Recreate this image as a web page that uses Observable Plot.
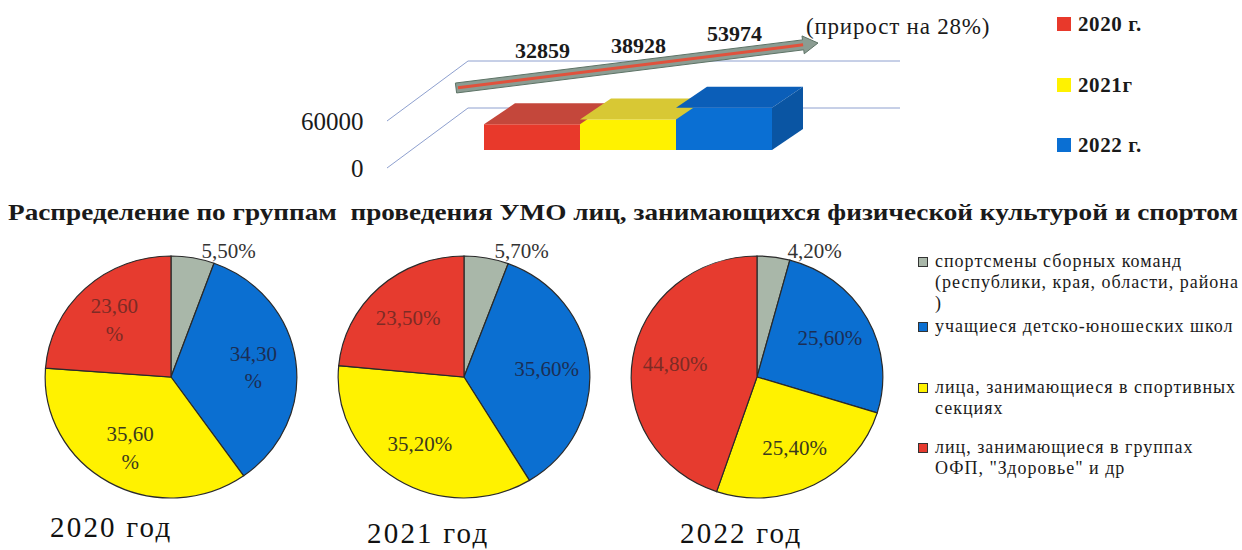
<!DOCTYPE html>
<html><head><meta charset="utf-8">
<script src="https://cdn.jsdelivr.net/npm/d3@7"></script>
<script src="https://cdn.jsdelivr.net/npm/@observablehq/plot@0.6"></script>
<style>
body{margin:0;background:#fff;}
#page{position:relative;width:1242px;height:550px;overflow:hidden;font-family:"Liberation Serif",serif;color:#1a1a1a;}
#page > *{position:absolute;}
.sq{position:absolute;box-sizing:border-box;}
</style></head><body><div id="page"></div>
<script>
// ---- data ----
const years = ["2020", "2021", "2022"];
const totals = [32859, 38928, 53974];
const barLegendLabels = ["2020 г.", "2021г", "2022 г."];
const axisTicks = [0, 60000];
const growthNote = "(прирост на 28%)";
const pieTitle = "Распределение по группам  проведения УМО лиц, занимающихся физической культурой и спортом";
const groups = [
  "спортсмены сборных команд (республики, края, области, района )",
  "учащиеся детско-юношеских школ",
  "лица, занимающиеся в спортивных секциях",
  "лиц, занимающиеся в группах ОФП, \"Здоровье\" и др"
];
const share2020 = [5.5, 34.3, 35.6, 23.6];
const share2021 = [5.7, 35.6, 35.2, 23.5];
const share2022 = [4.2, 25.6, 25.4, 44.8];
const yearLabels = ["2020 год", "2021 год", "2022 год"];

// ---- styles ----
const frontColors = ["#e8392b", "#fff200", "#0a6fd3"];
const topColors = ["#c4473b", "#d8c834", "#0b5eb8"];
const sideColor = "#0a55a3";
const pieColors = ["#a9b7a9", "#0b6fd1", "#fff200", "#e63b2f"];
const pieText = ["#333333", "#1b2e55", "#3b3a1e", "#7d2b25"];
const shares = [share2020, share2021, share2022];
const fmt = v => d3.format(".2f")(v).replace(".", ",") + "%";

const page = document.getElementById("page");

// ---- top 3D bar chart ----
const barRows = years.map((year, i) => ({year, value: totals[i]}));

function walls(index, scales) {
  const g = d3.create("svg:g").attr("fill", "none").attr("stroke", "#8ea0cf").attr("stroke-width", 1);
  const x0 = scales.x(years[0]);
  const x1 = scales.x(years[years.length - 1]) + scales.x.bandwidth();
  for (const v of axisTicks) {
    const y = scales.y(v);
    g.append("path").attr("d", `M${x0 - 97},${y + 18}L${x0 - 16},${y - 42}L${x1 + 128},${y - 42}`);
  }
  return g.node();
}

function arrow(index, scales) {
  const g = d3.create("svg:g");
  const bw = scales.x.bandwidth();
  const ytop = scales.y(axisTicks[1]);
  const xs = scales.x(years[0]) - 28, ys = ytop - 15;
  const xe = scales.x(years[years.length - 1]) + bw + 46, ye = ytop - 60;
  const L = Math.hypot(xe - xs, ye - ys);
  const ux = (xe - xs) / L, uy = (ye - ys) / L, nx = -uy, ny = ux;
  const hl = 15, sw = 5, hw = 9;
  const bx = xe - ux * hl, by = ye - uy * hl;
  const pts = [
    [xs + nx * sw, ys + ny * sw], [bx + nx * sw, by + ny * sw], [bx + nx * hw, by + ny * hw],
    [xe, ye], [bx - nx * hw, by - ny * hw], [bx - nx * sw, by - ny * sw], [xs - nx * sw, ys - ny * sw]
  ];
  g.append("path").attr("d", "M" + pts.map(p => p.join(",")).join("L") + "Z")
    .attr("fill", "#8b9c92").attr("stroke", "#5d7366").attr("stroke-width", 1);
  g.append("line").attr("x1", xs + ux * 2).attr("y1", ys + uy * 2).attr("x2", bx).attr("y2", by)
    .attr("stroke", "#e0523d").attr("stroke-width", 3);
  return g.node();
}

function tops(index, scales) {
  const g = d3.create("svg:g");
  const bw = scales.x.bandwidth();
  const dx = 31, dy = -21;
  barRows.forEach((d, i) => {
    const x0 = scales.x(d.year), x1 = x0 + bw, yb = scales.y(0), yt = scales.y(d.value);
    g.append("path").attr("d", `M${x0},${yt}L${x0 + dx},${yt + dy}L${x1 + dx},${yt + dy}L${x1},${yt}Z`)
      .attr("fill", topColors[i]);
    if (i === barRows.length - 1) {
      g.append("path").attr("d", `M${x1},${yt}L${x1 + dx},${yt + dy}L${x1 + dx},${yb + dy}L${x1},${yb}Z`)
        .attr("fill", sideColor);
    }
  });
  return g.node();
}

const topPlot = Plot.plot({
  width: 1242, height: 190,
  marginLeft: 370, marginTop: 0, marginBottom: 0, marginRight: 0,
  style: {fontFamily: "'Liberation Serif', serif", fontSize: "24px", color: "#1a1a1a", background: "transparent", overflow: "visible"},
  x: {type: "band", domain: years, range: [483, 772], padding: 0, axis: null},
  y: {domain: [0, 60000], range: [150, 103], axis: null},
  color: {domain: years, range: frontColors},
  marks: [
    walls,
    Plot.text(axisTicks, {y: d => d, text: d => String(d), frameAnchor: "left", textAnchor: "end", dx: -7, dy: 18, fontSize: 25, fill: "#1a1a1a"}),
    arrow,
    Plot.barY(barRows, {x: "year", y: "value", fill: "year"}),
    tops,
    Plot.text(barRows, {x: "year", y: "value", text: d => String(d.value), dx: 10, dy: -74, fontWeight: "bold", fontSize: 22, fill: "#1a1a1a"})
  ]
});
topPlot.style.left = "0px"; topPlot.style.top = "0px";
page.appendChild(topPlot);

// growth note
const note = document.createElement("div");
note.textContent = growthNote;
Object.assign(note.style, {left: "806px", top: "13px", fontSize: "23px", letterSpacing: "0.8px", lineHeight: "28px", whiteSpace: "nowrap"});
page.appendChild(note);

// top legend
barLegendLabels.forEach((t, i) => {
  const cy = 24 + i * 60.5;
  const sq = document.createElement("div");
  sq.className = "sq";
  Object.assign(sq.style, {left: "1057px", top: (cy - 7) + "px", width: "14px", height: "14px", background: frontColors[i]});
  page.appendChild(sq);
  const tx = document.createElement("div");
  tx.textContent = t;
  Object.assign(tx.style, {left: "1078px", top: (cy - 12) + "px", fontSize: "21px", letterSpacing: "0.6px", lineHeight: "24px", fontWeight: "bold", whiteSpace: "nowrap"});
  page.appendChild(tx);
});

// ---- title ----
const ns = "http://www.w3.org/2000/svg";
const tsvg = document.createElementNS(ns, "svg");
tsvg.setAttribute("width", 1242); tsvg.setAttribute("height", 34);
tsvg.style.left = "0px"; tsvg.style.top = "195px";
const tt = document.createElementNS(ns, "text");
tt.setAttribute("x", 8); tt.setAttribute("y", 17);
tt.setAttribute("dominant-baseline", "central");
tt.setAttribute("textLength", 1230);
tt.setAttribute("lengthAdjust", "spacingAndGlyphs");
tt.setAttribute("style", "font-family:'Liberation Serif',serif;font-weight:bold;font-size:23px;fill:#1a1a1a;white-space:pre");
tt.textContent = pieTitle;
tsvg.appendChild(tt);
page.appendChild(tsvg);

// ---- pies ----
function pies(index, scales, values, dims) {
  const g = d3.create("svg:g");
  const ry = (dims.height - dims.marginTop - dims.marginBottom) / 2;
  const rx = ry * 1.04;
  const cy = dims.marginTop + ry;
  shares.forEach((arr, k) => {
    const cx = scales.x(years[k]);
    const arcs = d3.pie().sort(null).value(d => d)(arr);
    const arc = d3.arc().innerRadius(0).outerRadius(ry);
    const gs = g.append("g").attr("transform", `translate(${cx},${cy}) scale(${rx / ry},1)`);
    gs.selectAll("path").data(arcs).join("path")
      .attr("d", arc)
      .attr("fill", (d, j) => pieColors[j])
      .attr("stroke", "#2a2a2a").attr("stroke-width", 1.2)
      .attr("vector-effect", "non-scaling-stroke");
    const lab = d3.arc().innerRadius(ry * 0.66).outerRadius(ry * 0.66);
    arcs.forEach((a, j) => {
      if (j === 0) return;
      const [px, py] = lab.centroid(a);
      const t = g.append("text")
        .attr("x", cx + px * rx / ry).attr("y", cy + py)
        .attr("text-anchor", "middle")
        .attr("fill", pieText[j])
        .attr("font-size", 21);
      const s = fmt(a.data);
      if (k === 0) {
        t.append("tspan").attr("x", cx + px * rx / ry).attr("dy", "-0.25em").text(s.slice(0, -1));
        t.append("tspan").attr("x", cx + px * rx / ry).attr("dy", "1.3em").text("%");
      } else {
        t.attr("dy", "0.32em").text(s);
      }
    });
  });
  return g.node();
}

const outerRows = years.map((year, k) => ({year, label: fmt(shares[k][0])}));

const piePlot = Plot.plot({
  width: 1242, height: 550,
  marginTop: 256, marginBottom: 52, marginLeft: 0, marginRight: 0,
  style: {fontFamily: "'Liberation Serif', serif", fontSize: "20px", color: "#333", background: "transparent", overflow: "visible"},
  x: {type: "point", domain: years, range: [170, 757], padding: 0, axis: null},
  marks: [
    pies,
    Plot.text(outerRows, {x: "year", text: "label", frameAnchor: "top", dy: -13, dx: 30, textAnchor: "start", fontSize: 21, fill: "#333"})
  ]
});
piePlot.style.left = "0px"; piePlot.style.top = "0px";
page.appendChild(piePlot);

// pie legend
const legendCenters = [262, 327, 388, 448];
groups.forEach((t, j) => {
  const cy = legendCenters[j];
  const sq = document.createElement("div");
  sq.className = "sq";
  Object.assign(sq.style, {left: "918px", top: (cy - 5) + "px", width: "10px", height: "10px", background: pieColors[j], border: "1px solid #333"});
  page.appendChild(sq);
  const tx = document.createElement("div");
  tx.textContent = t;
  Object.assign(tx.style, {left: "935px", top: (cy - 11) + "px", width: "305px", fontSize: "18px", letterSpacing: "1px", lineHeight: "21px", color: "#1a1a1a"});
  page.appendChild(tx);
});

// year captions
const capLeft = [50, 367, 680], capTop = [514, 520, 520];
yearLabels.forEach((t, i) => {
  const d = document.createElement("div");
  d.textContent = t;
  Object.assign(d.style, {left: capLeft[i] + "px", top: capTop[i] + "px", fontSize: "29px", letterSpacing: "2.2px", lineHeight: "26px", whiteSpace: "nowrap", color: "#111"});
  page.appendChild(d);
});
</script></body></html>
